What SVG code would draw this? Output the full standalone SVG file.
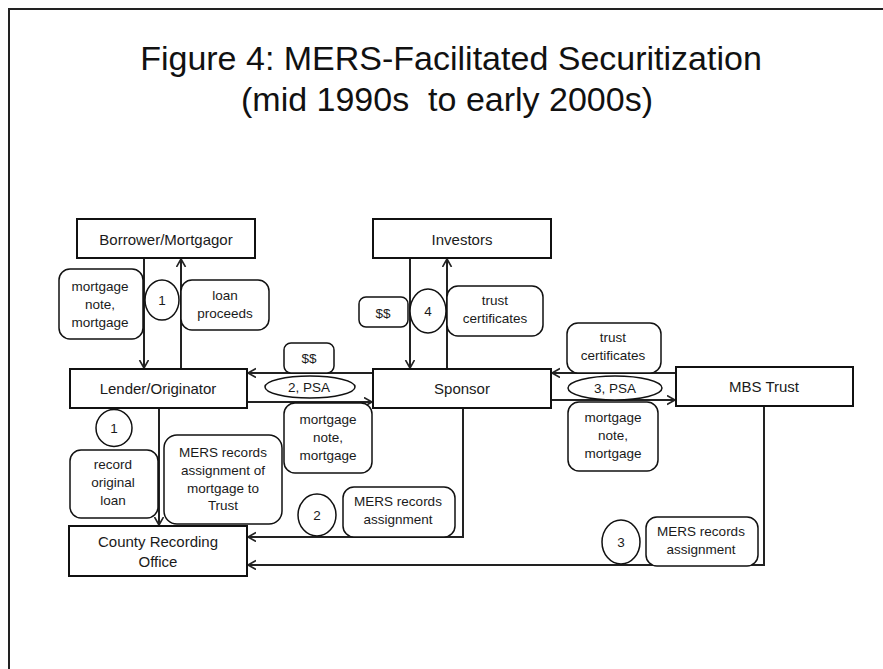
<svg xmlns="http://www.w3.org/2000/svg" width="883" height="669" viewBox="0 0 883 669">
<style>
  .frame{fill:none;stroke:#222;stroke-width:2}
  .title{font-family:"Liberation Sans",Arial,sans-serif;font-size:34px;fill:#111;text-anchor:middle}
  .node rect{fill:#fff;stroke:#111;stroke-width:2}
  .node text{font-family:"Liberation Sans",Arial,sans-serif;font-size:15px;fill:#1a1a1a;text-anchor:middle}
  .lbl rect{fill:#fff;stroke:#111;stroke-width:1.5}
  .lbl ellipse{fill:#fff;stroke:#111;stroke-width:1.5}
  .lbl text{font-family:"Liberation Sans",Arial,sans-serif;font-size:13.5px;fill:#1a1a1a;text-anchor:middle}
  .conn path{fill:none;stroke:#222;stroke-width:2}
</style>
<defs>
  <marker id="arr" markerUnits="userSpaceOnUse" markerWidth="12" markerHeight="12" refX="8" refY="5" orient="auto">
    <path d="M0,0.5 L8,5 L0,9.5" fill="none" stroke="#222" stroke-width="1.6"/>
  </marker>
</defs>
<rect width="883" height="669" fill="#fff"/>
<path class="frame" d="M9,669 V9 H883"/>
<g id="title">
  <text class="title" x="451" y="70">Figure 4: MERS-Facilitated Securitization</text>
  <text class="title" x="447" y="111" xml:space="preserve">(mid 1990s  to early 2000s)</text>
</g>
<g id="connectors" class="conn">
  <path d="M144,258 V368" marker-end="url(#arr)"/>
  <path d="M181,369 V259" marker-end="url(#arr)"/>
  <path d="M410,258 V368" marker-end="url(#arr)"/>
  <path d="M447,369 V259" marker-end="url(#arr)"/>
  <path d="M373,373 H248" marker-end="url(#arr)"/>
  <path d="M247,402 H372" marker-end="url(#arr)"/>
  <path d="M676,373 H552" marker-end="url(#arr)"/>
  <path d="M551,400 H675" marker-end="url(#arr)"/>
  <path d="M159,408 V525" marker-end="url(#arr)"/>
  <path d="M463,408 V537 H248" marker-end="url(#arr)"/>
  <path d="M764,406 V565 H248" marker-end="url(#arr)"/>
</g>
<g id="borrower" class="node"><rect x="77" y="219" width="178" height="39"/><text x="166" y="245">Borrower/Mortgagor</text></g>
<g id="investors" class="node"><rect x="373" y="219" width="178" height="39"/><text x="462" y="245">Investors</text></g>
<g id="lender" class="node"><rect x="70" y="369" width="177" height="39"/><text x="158" y="394">Lender/Originator</text></g>
<g id="sponsor" class="node"><rect x="373" y="369" width="178" height="39"/><text x="462" y="394">Sponsor</text></g>
<g id="mbs-trust" class="node"><rect x="676" y="367" width="177" height="39"/><text x="764" y="392">MBS Trust</text></g>
<g id="county" class="node"><rect x="69" y="526" width="178" height="50"/><text x="158" y="547">County Recording</text><text x="158" y="567">Office</text></g>

<g id="lbl-note-1" class="lbl"><rect x="59" y="269" width="84" height="70" rx="11"/><text x="100" y="291">mortgage</text><text x="100" y="309">note,</text><text x="100" y="327">mortgage</text></g>
<g id="lbl-step1a" class="lbl"><ellipse cx="162" cy="300" rx="17" ry="20"/><text x="162" y="305">1</text></g>
<g id="lbl-loan" class="lbl"><rect x="181" y="280" width="88" height="50" rx="11"/><text x="225" y="300">loan</text><text x="225" y="318">proceeds</text></g>
<g id="lbl-dollars-4" class="lbl"><rect x="359" y="297" width="49" height="30" rx="7"/><text x="383" y="318">$$</text></g>
<g id="lbl-step4" class="lbl"><ellipse cx="428" cy="311" rx="18" ry="22"/><text x="428" y="316">4</text></g>
<g id="lbl-trustcert-4" class="lbl"><rect x="447" y="286" width="96" height="50" rx="11"/><text x="495" y="305">trust</text><text x="495" y="323">certificates</text></g>
<g id="lbl-dollars-2" class="lbl"><rect x="284" y="343" width="50" height="30" rx="7"/><text x="309" y="363">$$</text></g>
<g id="lbl-psa2" class="lbl"><ellipse cx="310" cy="387" rx="45" ry="11"/><text x="309" y="392">2, PSA</text></g>
<g id="lbl-note-2" class="lbl"><rect x="284" y="403" width="88" height="70" rx="11"/><text x="328" y="424">mortgage</text><text x="328" y="442">note,</text><text x="328" y="460">mortgage</text></g>
<g id="lbl-trustcert-3" class="lbl"><rect x="567" y="323" width="94" height="50" rx="11"/><text x="613" y="342">trust</text><text x="613" y="360">certificates</text></g>
<g id="lbl-psa3" class="lbl"><ellipse cx="615" cy="388" rx="47" ry="12"/><text x="615" y="393">3, PSA</text></g>
<g id="lbl-note-3" class="lbl"><rect x="568" y="402" width="90" height="69" rx="11"/><text x="613" y="422">mortgage</text><text x="613" y="440">note,</text><text x="613" y="458">mortgage</text></g>
<g id="lbl-step1b" class="lbl"><ellipse cx="114" cy="428" rx="18" ry="18.5"/><text x="114" y="433">1</text></g>
<g id="lbl-record" class="lbl"><rect x="70" y="450" width="88" height="68" rx="11"/><text x="113" y="469">record</text><text x="113" y="487">original</text><text x="113" y="505">loan</text></g>
<g id="lbl-mers-trust" class="lbl"><rect x="164" y="435" width="118" height="89" rx="13"/><text x="223" y="457">MERS records</text><text x="223" y="475">assignment of</text><text x="223" y="493">mortgage to</text><text x="223" y="510">Trust</text></g>
<g id="lbl-step2" class="lbl"><ellipse cx="317" cy="515" rx="19" ry="21"/><text x="317" y="520">2</text></g>
<g id="lbl-mers-2" class="lbl"><rect x="343" y="487" width="112" height="50" rx="11"/><text x="398" y="506">MERS records</text><text x="398" y="524">assignment</text></g>
<g id="lbl-step3" class="lbl"><ellipse cx="621" cy="542" rx="19" ry="22"/><text x="621" y="547">3</text></g>
<g id="lbl-mers-3" class="lbl"><rect x="646" y="517" width="112" height="49" rx="11"/><text x="701" y="536">MERS records</text><text x="701" y="554">assignment</text></g>
</svg>
